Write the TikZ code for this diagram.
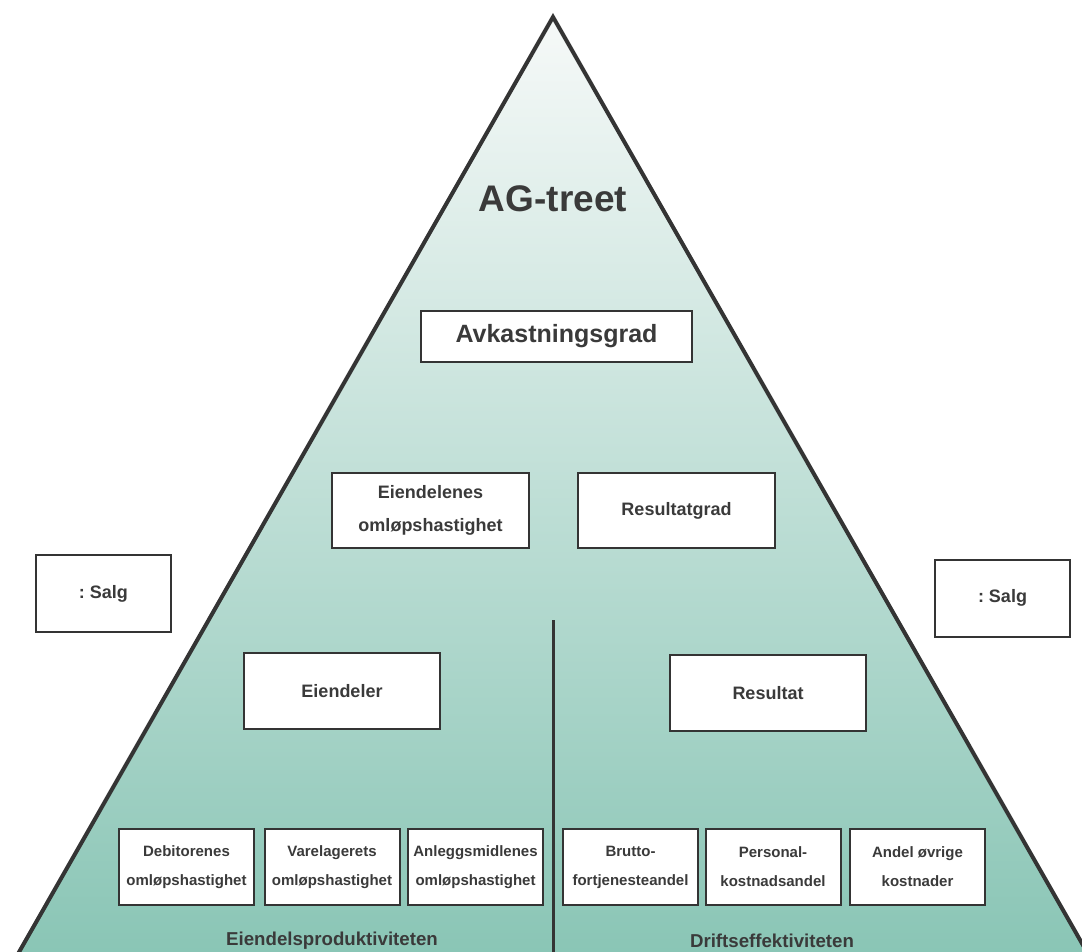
\documentclass[tikz,border=0pt]{standalone}
\usepackage{fontspec}
\setmainfont{Liberation Sans}

\definecolor{treetop}{RGB}{246,249,248}
\definecolor{treebottom}{RGB}{137,197,181}
\definecolor{inkgray}{RGB}{58,58,58}
\definecolor{edgegray}{RGB}{52,52,52}

\tikzset{every picture/.style={line width=0.75pt}}
\tikzset{
  box/.style={draw=edgegray, fill=white, line width=1.5pt, align=center, inner sep=0pt,
    text=inkgray, font=\bfseries\fontsize{13.5}{24.75}\selectfont},
  midbox/.style={box, minimum width=147.75pt, minimum height=56.25pt},
  salgbox/.style={box, minimum width=101.25pt, minimum height=57.75pt},
  smallbox/.style={box, minimum width=101.25pt, minimum height=57pt,
    font=\bfseries\fontsize{11.25}{21.75}\selectfont},
  caption/.style={inner sep=0pt, text=inkgray, font=\bfseries\fontsize{14}{16}\selectfont},
}

\begin{document}
\begin{tikzpicture}[x=0.75pt,y=0.75pt,yscale=-1,xscale=1]
\useasboundingbox (0,0) rectangle (1082,952);
\clip (0,0) rectangle (1082,952);

%Shape: Triangle [id:tree]
\shade [top color=treetop, bottom color=treebottom] (553,17) -- (1091.5,960) -- (14.5,960) -- cycle ;
\draw [color=edgegray, line width=3pt, line join=miter] (14.5,960) -- (553,17) -- (1091.5,960) ;

%Straight Lines [id:divider]
\coordinate (divtop) at (553,620);
\coordinate (divbot) at (553,960);
\draw [color=edgegray, line width=2.25pt] (divtop) -- (divbot) ;

% Text Node
\draw (553,199) node [inner sep=0pt, text=inkgray, font=\bfseries\fontsize{27.75}{30}\selectfont] (title) {AG-treet};

%Shape: Rectangle [id:avk]
\draw (556.5,336.5) node [box, minimum width=203.25pt, minimum height=38.25pt,
  font=\bfseries\fontsize{18.75}{22}\selectfont] (avk) {Avkastningsgrad};

%Shape: Rectangle [id:omlop]
\draw (430.5,510.5) node [midbox] (omlop) {Eiendelenes\\omløpshastighet};
%Shape: Rectangle [id:resgrad]
\draw (676.5,510.5) node [midbox] (resgrad) {Resultatgrad};

%Shape: Rectangle [id:salgL]
\draw (103.5,593.5) node [salgbox] (salgL) {:\ Salg};
%Shape: Rectangle [id:salgR]
\draw (1002.5,598) node [salgbox] (salgR) {:\ Salg};

%Shape: Rectangle [id:eiendeler]
\draw (342,691) node [midbox, minimum width=147pt, minimum height=57pt] (eiendeler) {Eiendeler};
%Shape: Rectangle [id:resultat]
\draw (768,693) node [midbox, minimum width=147pt, minimum height=57pt] (resultat) {Resultat};

%Shape: Rectangle [id:bottom row]
\draw (186.5,867) node [smallbox] (debitor) {Debitorenes\\omløpshastighet};
\draw (332,867) node [smallbox] (varelager) {Varelagerets\\omløpshastighet};
\draw (475.5,867) node [smallbox] (anlegg) {Anleggsmidlenes\\omløpshastighet};
\draw (630.5,867) node [smallbox] (brutto) {Brutto-\\fortjenesteandel};
\draw (773,867) node [smallbox] (personal) {Personal-\\kostnadsandel};
\draw (917.5,867) node [smallbox] (ovrige) {Andel øvrige\\kostnader};

% Text Node
\draw (332,941) node [caption] (prod) {Eiendelsproduktiviteten};
% Text Node
\draw (772,941) node [caption] (drift) {Driftseffektiviteten};

\end{tikzpicture}
\end{document}
